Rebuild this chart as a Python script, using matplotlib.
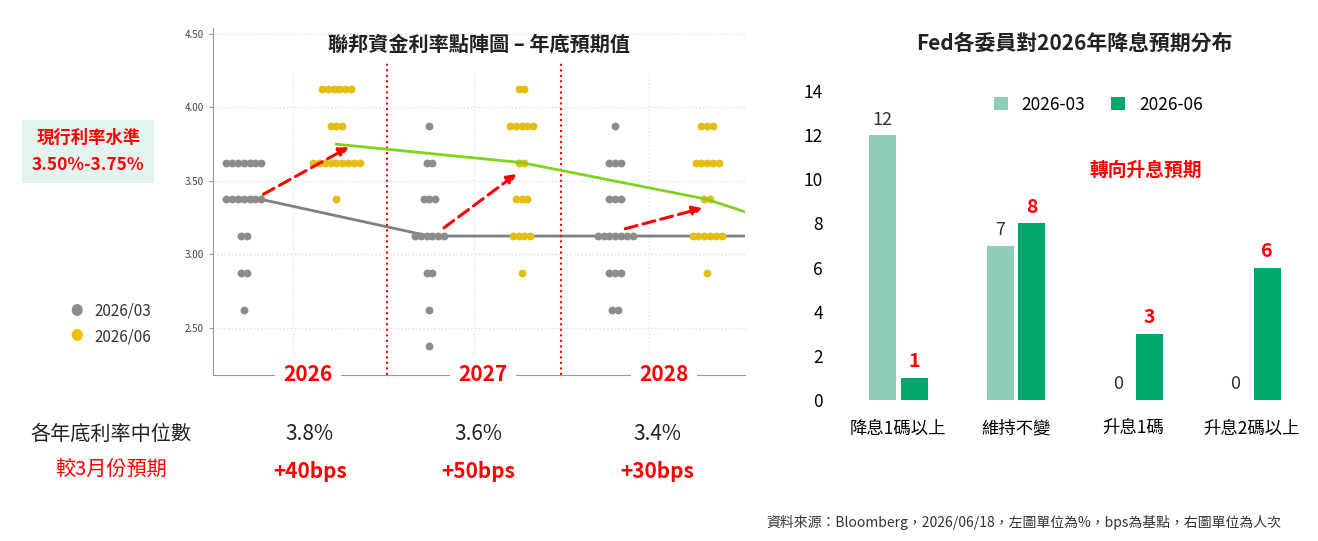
import matplotlib.pyplot as plt
from matplotlib.patches import FancyArrowPatch

plt.rcParams['font.family'] = ['Noto Sans CJK TC', 'DejaVu Sans']

# dot plot: (rate, count) per year
rates = [4.125, 3.875, 3.625, 3.375, 3.125, 2.875, 2.625, 2.375]
dots_03 = {
    '2026': [0, 0, 7, 7, 2, 2, 1, 0],
    '2027': [0, 1, 2, 3, 6, 2, 1, 1],
    '2028': [0, 1, 3, 3, 7, 3, 2, 0],
}
dots_06 = {
    '2026': [6, 3, 9, 1, 0, 0, 0, 0],
    '2027': [2, 5, 2, 3, 4, 1, 0, 0],
    '2028': [0, 3, 5, 2, 6, 1, 0, 0],
}
years = ['2026', '2027', '2028']
median_03 = [3.375, 3.125, 3.125, 3.125]
median_06 = [3.75, 3.625, 3.375, 3.29]
median_texts = ['3.8%', '3.6%', '3.4%']
change_texts = ['+40bps', '+50bps', '+30bps']

# bar chart
cats = ['降息1碼以上', '維持不變', '升息1碼', '升息2碼以上']
cnt_03 = [12, 7, 0, 0]
cnt_06 = [1, 8, 3, 6]

gray_c = '#8c8c8c'
yel_c = '#e3bd10'
light_g = '#8ecdb8'
dark_g = '#00a86b'

fig = plt.figure(figsize=(13.18, 5.41), dpi=100)

# ---------- left dot plot ----------
ax = fig.add_axes([0.1616, 0.307, 0.4036, 0.641])
x03 = [5.8, 40.7, 75.6]
x06 = [23.2, 58.0, 92.9]
sp = 1.09
for i, y in enumerate(years):
    for r, n in zip(rates, dots_03[y]):
        xs = [x03[i] + (k - (n - 1) / 2) * sp for k in range(n)]
        ax.scatter(xs, [r] * n, s=32, color=gray_c, zorder=3, linewidths=0)
    for r, n in zip(rates, dots_06[y]):
        xs = [x06[i] + (k - (n - 1) / 2) * sp for k in range(n)]
        ax.scatter(xs, [r] * n, s=32, color=yel_c, zorder=3, linewidths=0)
ax.plot([9, x03[1], x03[2], 100], median_03, color='#808080', lw=2, zorder=2)
ax.plot([x06[0], x06[1], x06[2], 100], median_06, color='#7ed321', lw=2, zorder=4)
for xd in [32.7, 65.4]:
    ax.axvline(xd, color='red', ls=':', lw=1.5, ymax=0.9)
for g in [2.5, 3.0, 3.5, 4.0, 4.5]:
    ax.axhline(g, color='#dddddd', ls=':', lw=1, zorder=0)
for g in [15, 49, 82]:
    ax.axvline(g, color='#e6e6e6', ls=':', lw=1, zorder=0, ymax=0.88)
arrows = [((9, 3.40), (26, 3.74)), ((43, 3.17), (57.5, 3.56)), ((77, 3.17), (92.5, 3.32))]
for a, b in arrows:
    ax.add_patch(FancyArrowPatch(a, b, arrowstyle='-|>', mutation_scale=14,
                                 color='red', ls=(0, (4, 2)), lw=2.2, zorder=5))
ax.set_xlim(0, 100)
ax.set_ylim(2.18, 4.54)
ax.set_yticks([2.5, 3.0, 3.5, 4.0, 4.5])
ax.set_yticklabels(['2.50', '3.00', '3.50', '4.00', '4.50'], fontsize=7, color='#444444')
ax.set_xticks([])
for s in ['top', 'right']:
    ax.spines[s].set_visible(False)
ax.spines['left'].set_color('#999999')
ax.spines['bottom'].set_color('#999999')
ax.tick_params(axis='y', length=3, color='#999999')
for xl, y in zip([17.8, 50.8, 84.8], years):
    ax.text(xl, 2.18, y, ha='center', va='center', fontsize=15, color='red',
            fontweight='bold', bbox=dict(fc='white', ec='none', pad=6))
ax.text(50, 4.43, '聯邦資金利率點陣圖 – 年底預期值', ha='center', va='center',
        fontsize=14.5, fontweight='bold', color='#222222')

fig.text(0.067, 0.72, '現行利率水準\n3.50%-3.75%', ha='center', va='center', fontsize=12.5,
         color='red', fontweight='bold', linespacing=1.6,
         bbox=dict(fc='#e3f4ee', ec='none', pad=7))
fig.text(0.058, 0.425, '●', color=gray_c, fontsize=9, ha='center', va='center')
fig.text(0.072, 0.425, '2026/03', color='#333333', fontsize=11, va='center')
fig.text(0.058, 0.378, '●', color='#f0c000', fontsize=9, ha='center', va='center')
fig.text(0.072, 0.378, '2026/06', color='#333333', fontsize=11, va='center')

fig.text(0.084, 0.197, '各年底利率中位數', ha='center', va='center', fontsize=14.5, color='#222222')
fig.text(0.084, 0.132, '較3月份預期', ha='center', va='center', fontsize=14.5, color='red')
for xp, m, c in zip([0.235, 0.363, 0.499], median_texts, change_texts):
    fig.text(xp, 0.197, m, ha='center', va='center', fontsize=15, color='#222222')
    fig.text(xp, 0.128, c, ha='center', va='center', fontsize=15, color='red', fontweight='bold')

# ---------- right bar chart ----------
bx = fig.add_axes([0.637, 0.2606, 0.357, 0.5915])
xs = range(len(cats))
w = 0.23
bx.bar([i - 0.135 for i in xs], cnt_03, width=w, color=light_g, label='2026-03')
bx.bar([i + 0.135 for i in xs], cnt_06, width=w, color=dark_g, label='2026-06')
for i, v in enumerate(cnt_03):
    bx.text(i - 0.135, v + 0.3, str(v), ha='center', va='bottom', fontsize=13, color='#333333')
for i, v in enumerate(cnt_06):
    bx.text(i + 0.135, v + 0.3, str(v), ha='center', va='bottom', fontsize=14,
            color='red', fontweight='bold')
bx.set_xlim(-0.5, 3.5)
bx.set_ylim(0, 14.5)
bx.set_yticks(range(0, 15, 2))
bx.set_xticks(list(xs))
bx.set_xticklabels(cats, fontsize=12.5)
bx.tick_params(axis='x', length=0, labelsize=12.5, pad=14)
bx.tick_params(axis='y', length=0, labelsize=12.5, pad=12)
for s in bx.spines.values():
    s.set_visible(False)
bx.legend(loc='upper center', bbox_to_anchor=(0.55, 1.0), ncol=2, frameon=False,
          fontsize=12.5, handlelength=0.8, handleheight=0.8, columnspacing=1.5)
bx.text(2.1, 10.4, '轉向升息預期', ha='center', va='center', fontsize=13.5,
        color='red', fontweight='bold')
fig.text(0.815, 0.92, 'Fed各委員對2026年降息預期分布', ha='center', va='center',
         fontsize=15, fontweight='bold', color='#222222')

fig.text(0.972, 0.02, '資料來源：Bloomberg，2026/06/18，左圖單位為%，bps為基點，右圖單位為人次',
         ha='right', va='bottom', fontsize=10, color='#333333')

fig.savefig('out.png', dpi=100)
